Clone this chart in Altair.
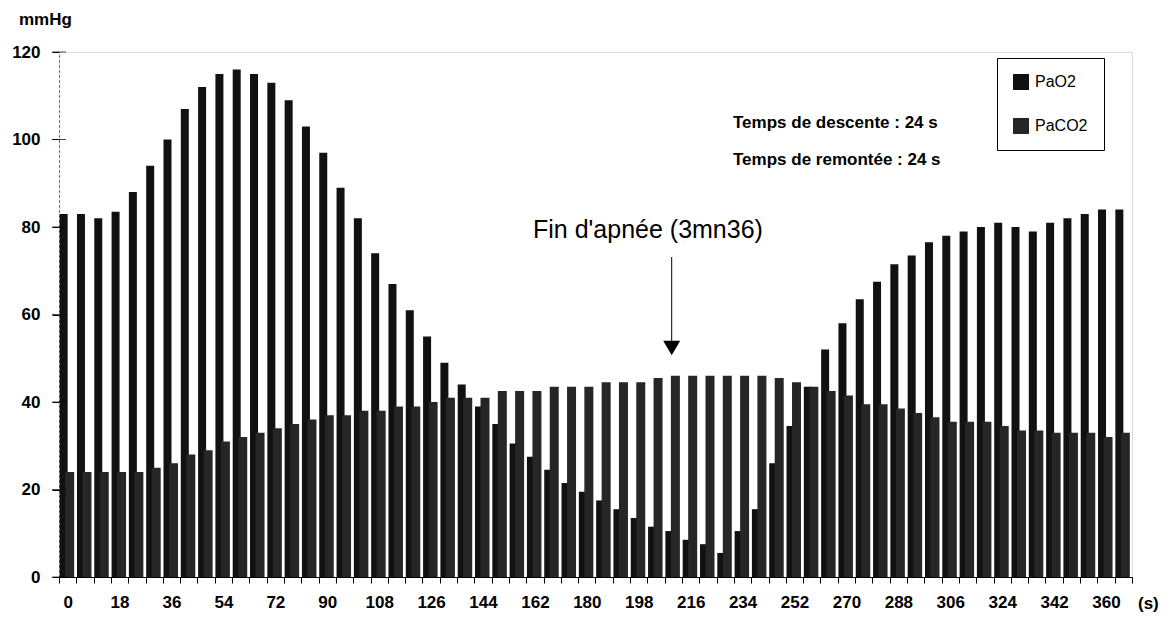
import altair as alt
import pandas as pd

# time (s)
times = [0, 6, 12, 18, 24, 30, 36, 42, 48, 54, 60, 66, 72, 78, 84, 90, 96, 102, 108, 114,
         120, 126, 132, 138, 144, 150, 156, 162, 168, 174, 180, 186, 192, 198, 204, 210,
         216, 222, 228, 234, 240, 246, 252, 258, 264, 270, 276, 282, 288, 294, 300, 306,
         312, 318, 324, 330, 336, 342, 348, 354, 360, 366]

pao2 = [83, 83, 82, 83.5, 88, 94, 100, 107, 112, 115, 116, 115, 113, 109, 103, 97, 89, 82, 74, 67,
        61, 55, 49, 44, 39, 35, 30.5, 27.5, 24.5, 21.5, 19.5, 17.5, 15.5, 13.5, 11.5, 10.5, 8.5,
        7.5, 5.5, 10.5, 15.5, 26,
        34.5, 43.5, 52, 58, 63.5, 67.5, 71.5, 73.5, 76.5, 78, 79, 80, 81, 80, 79, 81, 82, 83, 84, 84]

paco2 = [24, 24, 24, 24, 24, 25, 26, 28, 29, 31, 32, 33, 34, 35, 36, 37, 37, 38, 38, 39,
         39, 40, 41, 41, 41, 42.5, 42.5, 42.5, 43.5, 43.5, 43.5, 44.5, 44.5, 44.5, 45.5, 46, 46,
         46, 46, 46, 46, 45.5,
         44.5, 43.5, 42.5, 41.5, 39.5, 39.5, 38.5, 37.5, 36.5, 35.5, 35.5, 35.5, 34.5, 33.5, 33.5,
         33, 33, 33, 32, 33]

series_names = ["PaO2", "PaCO2"]
series_colors = ["#111111", "#262626"]
y_ticks = [0, 20, 40, 60, 80, 100, 120]

df = pd.DataFrame({"t": times, "PaO2": pao2, "PaCO2": paco2})
long = df.melt(id_vars="t", value_vars=series_names, var_name="serie", value_name="v")

W, H = 1073, 525

xscale = alt.Scale(paddingInner=0, paddingOuter=0)
yscale = alt.Scale(domain=[0, 120], nice=False)
cscale = alt.Scale(domain=series_names, range=series_colors)

x_enc = alt.X("t:O", scale=xscale, sort=None,
              axis=alt.Axis(title=None, tickBand="extent", labelAngle=0,
                            labelExpr="(datum.value % 18 == 0) ? datum.label : ''",
                            labelFont="Liberation Sans", labelFontSize=17, labelFontWeight="bold",
                            labelColor="black", labelPadding=11, tickSize=6, tickColor="black",
                            domainColor="black", domainWidth=1.2, labelOverlap=False))
y_enc = alt.Y("v:Q", scale=yscale,
              axis=alt.Axis(title=None, values=y_ticks, grid=False, labelFont="Liberation Sans",
                            labelFontSize=17, labelFontWeight="bold", labelColor="black",
                            labelPadding=12, tickSize=7, tickColor="black",
                            domainColor="#444444", domainDash=[2, 3]))
legend = alt.Legend(title=None, orient="none", legendX=938, legendY=6, direction="vertical",
                    symbolType="square", symbolSize=256, symbolStrokeWidth=0,
                    labelFont="Liberation Sans", labelFontSize=16, labelColor="black",
                    labelOffset=6, padding=16, rowPadding=28, strokeColor="black",
                    fillColor="white")
c_enc = alt.Color("serie:N", scale=cscale, legend=legend, sort=series_names)

base = alt.Chart(long)
bars_o2 = base.transform_filter(alt.datum.serie == "PaO2").mark_bar(
    width=8, xOffset=-4).encode(x=x_enc, y=y_enc, color=c_enc)
bars_co2 = base.transform_filter(alt.datum.serie == "PaCO2").mark_bar(
    width=9, xOffset=2).encode(x=x_enc, y=y_enc, color=c_enc)

tick_df = pd.DataFrame({"v": y_ticks})
yticks_in = alt.Chart(tick_df).mark_tick(orient="horizontal", size=14, thickness=1,
                                         color="black").encode(
    x=alt.value(0), y=alt.Y("v:Q", scale=yscale))


def label(txt, x, y, size, weight="normal", align="left"):
    return alt.Chart(pd.DataFrame({"s": [txt]})).mark_text(
        align=align, baseline="middle", font="Liberation Sans", fontSize=size,
        fontWeight=weight, color="black").encode(
        text="s:N", x=alt.value(x), y=alt.value(y))


unit = label("mmHg", -40, -32, 17, "bold")
xunit = label("(s)", 1079, 552, 17, "bold")
t1 = label("Temps de descente : 24 s", 674, 71, 17, "bold")
t2 = label("Temps de remontée : 24 s", 674, 108, 17, "bold")
fin = label("Fin d'apnée (3mn36)", 474, 178, 25)

arrow_line = alt.Chart(pd.DataFrame({"a": [0]})).mark_rule(color="black", strokeWidth=1).encode(
    x=alt.value(612.7), y=alt.value(205), y2=alt.value(290))
arrow_head = alt.Chart(pd.DataFrame({"a": [0]})).mark_point(
    shape="triangle-down", filled=True, size=289, color="black", opacity=1).encode(
    x=alt.value(612.7), y=alt.value(296))

chart = alt.layer(bars_o2, bars_co2, yticks_in, unit, xunit, t1, t2, fin, arrow_line, arrow_head
                  ).properties(
    width=W, height=H,
    autosize=alt.AutoSizeParams(type="none"),
    padding={"left": 51, "top": 44, "right": 34, "bottom": 40},
).configure_view(stroke=None).configure(background="white")

chart.save("out.html", embed_options={"renderer": "svg", "actions": False})
